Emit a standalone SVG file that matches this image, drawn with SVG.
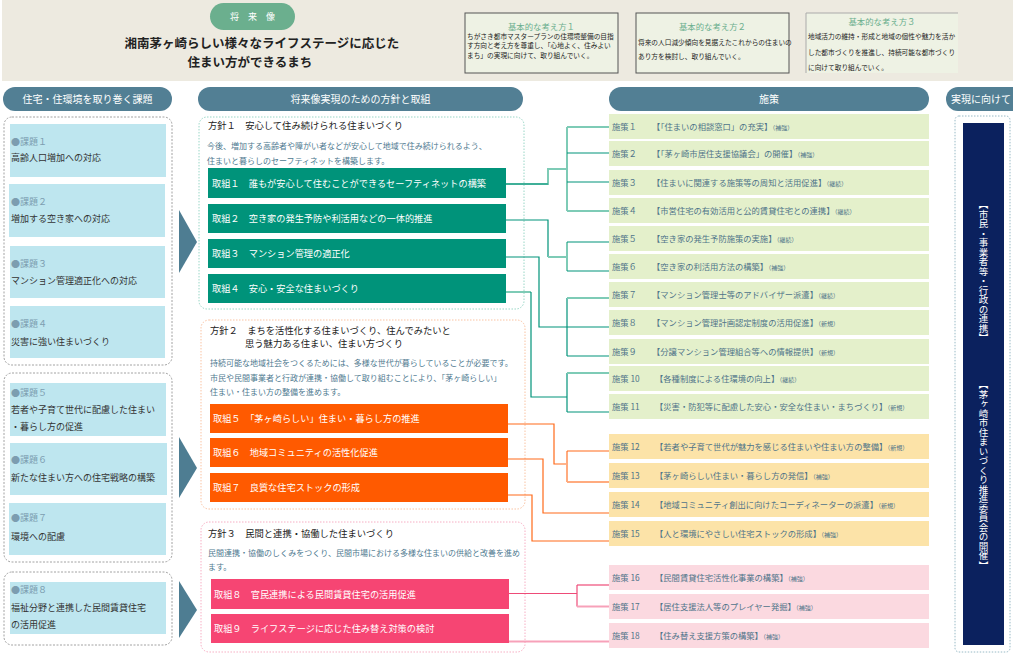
<svg xmlns="http://www.w3.org/2000/svg" width="1013" height="654" viewBox="0 0 1013 654">
<style>
text{font-family:"Noto Sans CJK JP","Noto Sans",sans-serif;}
.pill{fill:#527F94}
.pt{fill:#fff;font-size:10px}
.grp{fill:none;stroke:#8a8a8a;stroke-width:0.8;stroke-dasharray:2 1.5}
.issue{fill:#BEE6EF}
.il{fill:#7C9DB0;font-size:9px}
.it{fill:#333;font-size:9px}
.arr{fill:#4E7D92}
.ptitle{fill:#222;font-size:9.3px}
.pdesc{fill:#4F7A90;font-size:8px}
.act{font-size:9.2px;fill:#fff}
.a1{fill:#00937A}.a2{fill:#FF5A00}.a3{fill:#F64573}
.mg{fill:#E4F0CB}.mo{fill:#FCE3A8}.mp{fill:#FBD9E0}
.ms{font-size:8.3px;fill:#4F7489}
.sm{font-size:6px}
.bx{fill:#EEF2E4;stroke:#555;stroke-width:1}
.bt{fill:#6BAF8E;font-size:8.4px;text-anchor:middle}
.bd{fill:#222;font-size:6.7px}
.c{fill:none;stroke-width:1.2}
.td{stroke:#00937A}.tl{stroke:#7ECBB6;stroke-width:2}
.od{stroke:#FF6A1A}.ol{stroke:#FFAB7F;stroke-width:2}
.pd{stroke:#EE4B78}.pl{stroke:#F7A1B9;stroke-width:2}
.vt{fill:#fff;font-size:9.5px;writing-mode:vertical-rl}
</style>
<rect width="1013" height="654" fill="#fff"/>
<g id="header">
<rect x="2" y="0" width="1011" height="81" fill="#EDEAE0"/>
<rect x="210" y="3" width="85" height="27" rx="13.5" fill="#6BAF8E"/>
<text x="252.5" y="20" fill="#fff" font-size="9" text-anchor="middle">将　来　像</text>
<text x="262" y="47.5" fill="#222" font-size="12.5" font-weight="bold" text-anchor="middle">湘南茅ヶ崎らしい様々なライフステージに応じた</text>
<text x="250" y="66.5" fill="#222" font-size="12.5" font-weight="bold" text-anchor="middle">住まい方ができるまち</text>
</g>
<g id="basic1">
<rect class="bx" x="465" y="13" width="153" height="60"/>
<text class="bt" x="541.5" y="29.5">基本的な考え方１</text>
<text class="bd" x="467" y="38.8">ちがさき都市マスタープランの住環境整備の目指</text>
<text class="bd" x="467" y="48.4">す方向と考え方を尊重し、「心地よく、住みよい</text>
<text class="bd" x="467" y="58.2">まち」の実現に向けて、取り組んでいく。</text>
</g>
<g id="basic2">
<rect class="bx" x="636" y="13" width="153" height="60"/>
<text class="bt" x="712.5" y="29.5">基本的な考え方２</text>
<text class="bd" x="638" y="44.8">将来の人口減少傾向を見据えたこれからの住まいの</text>
<text class="bd" x="638" y="58.9">あり方を検討し、取り組んでいく。</text>
</g>
<g id="basic3">
<rect x="806" y="13" width="152" height="60" fill="#EEF2E4"/>
<path d="M806,73 V13 H958" fill="none" stroke="#aaa" stroke-width="1"/>
<text class="bt" x="882" y="24.9">基本的な考え方３</text>
<text class="bd" x="808" y="38.8">地域活力の維持・形成と地域の個性や魅力を活か</text>
<text class="bd" x="808" y="54.7">した都市づくりを推進し、持続可能な都市づくり</text>
<text class="bd" x="808" y="69.5">に向けて取り組んでいく。</text>
</g>
<g id="headers">
<rect class="pill" x="3" y="87" width="169" height="24" rx="12"/>
<text class="pt" x="87.5" y="102.5" text-anchor="middle">住宅・住環境を取り巻く課題</text>
<rect class="pill" x="198" y="87" width="325" height="24" rx="12"/>
<text class="pt" x="360.5" y="102.5" text-anchor="middle">将来像実現のための方針と取組</text>
<rect class="pill" x="609" y="87" width="320" height="24" rx="12"/>
<text class="pt" x="769" y="102.5" text-anchor="middle">施策</text>
<rect class="pill" x="946" y="87" width="80" height="24" rx="12"/>
<text class="pt" x="951" y="102.5">実現に向けて</text>
</g>
<g id="issues">
<rect class="grp" x="4" y="117" width="168" height="248" rx="8"/>
<rect class="grp" x="4" y="373" width="168" height="189" rx="8"/>
<rect class="grp" x="4" y="572" width="168" height="73" rx="8"/>
<g id="issue1"><rect class="issue" x="10" y="124" width="156" height="53"/><text class="il" x="11" y="145">●課題１</text><text class="it" x="11" y="161">高齢人口増加への対応</text></g>
<g id="issue2"><rect class="issue" x="9" y="184" width="156" height="53"/><text class="il" x="11" y="205">●課題２</text><text class="it" x="11" y="222">増加する空き家への対応</text></g>
<g id="issue3"><rect class="issue" x="10" y="246" width="155" height="52"/><text class="il" x="11" y="267">●課題３</text><text class="it" x="11" y="284">マンション管理適正化への対応</text></g>
<g id="issue4"><rect class="issue" x="10" y="306" width="155" height="52"/><text class="il" x="11" y="327">●課題４</text><text class="it" x="11" y="345">災害に強い住まいづくり</text></g>
<g id="issue5"><rect class="issue" x="10" y="383" width="156" height="53"/><text class="il" x="11" y="396">●課題５</text><text class="it" x="11" y="413">若者や子育て世代に配慮した住まい</text><text class="it" x="11" y="430">・暮らし方の促進</text></g>
<g id="issue6"><rect class="issue" x="10" y="443" width="157" height="52"/><text class="il" x="11" y="463">●課題６</text><text class="it" x="11" y="481">新たな住まい方への住宅戦略の構築</text></g>
<g id="issue7"><rect class="issue" x="9" y="503" width="157" height="52"/><text class="il" x="11" y="521">●課題７</text><text class="it" x="11" y="540">環境への配慮</text></g>
<g id="issue8"><rect class="issue" x="10" y="582" width="156" height="52"/><text class="il" x="11" y="593">●課題８</text><text class="it" x="11" y="611">福祉分野と連携した民間賃貸住宅</text><text class="it" x="11" y="628">の活用促進</text></g>
</g>
<g id="arrows">
<path class="arr" d="M179,210 L197,242 L179,273 Z"/>
<path class="arr" d="M179,437 L197,468 L179,498 Z"/>
<path class="arr" d="M179,581 L197,610 L179,638 Z"/>
</g>
<g id="policy1">
<rect x="199" y="117" width="325" height="192" rx="8" fill="none" stroke="#7FCBB8" stroke-width="0.8" stroke-dasharray="1.5 1.5"/>
<text class="ptitle" x="208" y="128.5">方針１　安心して住み続けられる住まいづくり</text>
<text class="pdesc" x="207" y="149">今後、増加する高齢者や障がい者などが安心して地域で住み続けられるよう、</text>
<text class="pdesc" x="207" y="164">住まいと暮らしのセーフティネットを構築します。</text>
<g id="act1"><rect class="a1" x="208" y="168" width="298" height="30"/><text class="act" x="212" y="186.5">取組１　誰もが安心して住むことができるセーフティネットの構築</text></g>
<g id="act2"><rect class="a1" x="208" y="204" width="298" height="29"/><text class="act" x="212" y="222">取組２　空き家の発生予防や利活用などの一体的推進</text></g>
<g id="act3"><rect class="a1" x="208" y="239" width="298" height="29"/><text class="act" x="212" y="257">取組３　マンション管理の適正化</text></g>
<g id="act4"><rect class="a1" x="208" y="274" width="298" height="29"/><text class="act" x="212" y="292">取組４　安心・安全な住まいづくり</text></g>
</g>
<g id="policy2">
<rect x="201" y="320" width="324" height="189" rx="8" fill="none" stroke="#F7B48C" stroke-width="0.8" stroke-dasharray="1.5 1.5"/>
<text class="ptitle" x="210" y="333.5">方針２　まちを活性化する住まいづくり、住んでみたいと</text>
<text class="ptitle" x="245" y="346.5">思う魅力ある住まい、住まい方づくり</text>
<text class="pdesc" x="210" y="366">持続可能な地域社会をつくるためには、多様な世代が暮らしていることが必要です。</text>
<text class="pdesc" x="210" y="381">市民や民間事業者と行政が連携・協働して取り組むことにより、「茅ヶ崎らしい」</text>
<text class="pdesc" x="210" y="395">住まい・住まい方の整備を進めます。</text>
<g id="act5"><rect class="a2" x="210" y="404" width="298" height="29"/><text class="act" x="213" y="422">取組５　「茅ヶ崎らしい」住まい・暮らし方の推進</text></g>
<g id="act6"><rect class="a2" x="210" y="438" width="298" height="29"/><text class="act" x="213" y="456">取組６　地域コミュニティの活性化促進</text></g>
<g id="act7"><rect class="a2" x="210" y="473" width="298" height="29"/><text class="act" x="213" y="491">取組７　良質な住宅ストックの形成</text></g>
</g>
<g id="policy3">
<rect x="201" y="522" width="324" height="130" rx="8" fill="none" stroke="#F59AB5" stroke-width="0.8" stroke-dasharray="1.5 1.5"/>
<text class="ptitle" x="208" y="536.5">方針３　民間と連携・協働した住まいづくり</text>
<text class="pdesc" x="208" y="556" font-size="8.2">民間連携・協働のしくみをつくり、民間市場における多様な住まいの供給と改善を進め</text>
<text class="pdesc" x="208" y="570" font-size="8.2">ます。</text>
<g id="act8"><rect class="a3" x="211" y="579" width="298" height="30"/><text class="act" x="214" y="597.5">取組８　官民連携による民間賃貸住宅の活用促進</text></g>
<g id="act9"><rect class="a3" x="211" y="614" width="298" height="29"/><text class="act" x="214" y="632">取組９　ライフステージに応じた住み替え対策の検討</text></g>
</g>
<g id="connectors">
<path class="c tl" d="M506,184 H548 V169 H567"/>
<path class="c td" d="M506,184 H548"/>
<path class="c tl" d="M567,127 V211"/>
<path class="c tl" d="M567,127 H609"/>
<path class="c td" d="M567,153 H609"/>
<path class="c td" d="M567,182 H609"/>
<path class="c tl" d="M567,211 H609"/>
<path class="c td" d="M506,220 H548 V257"/>
<path class="c tl" d="M548,257 H567"/>
<path class="c tl" d="M567,242 V271"/>
<path class="c td" d="M567,242 H609"/>
<path class="c td" d="M567,271 H609"/>
<path class="c td" d="M506,257 H539 V327 H609"/>
<path class="c td" d="M567,298 V356"/>
<path class="c tl" d="M567,298 H609"/>
<path class="c td" d="M567,356 H609"/>
<path class="c tl" d="M506,292 H531"/>
<path class="c td" d="M531,292 V397 H567"/>
<path class="c td" d="M567,373 V412"/>
<path class="c tl" d="M567,373 H609"/>
<path class="c td" d="M567,412 H609"/>
<path class="c od" d="M508,424 H554 V464 H567"/>
<path class="c ol" d="M567,451 V482"/>
<path class="c od" d="M567,451 H609"/>
<path class="c ol" d="M567,482 H609"/>
<path class="c od" d="M508,459 H543 V513 H609"/>
<path class="c od" d="M508,495 H532 V541 H609"/>
<path class="c pd" d="M509,593.5 H577"/>
<path class="c pd" d="M577,585 V606.5"/>
<path class="c pd" d="M577,585 H609"/>
<path class="c pl" d="M577,606.5 H609"/>
<path class="c pl" d="M509,641.6 H609"/>
</g>
<g id="measures">
<g id="m1"><rect class="mg" x="609" y="114" width="320" height="25"/><text class="ms" x="612" y="129.5">施策１<tspan x="652">【「住まいの相談窓口」の充実】</tspan><tspan class="sm">（補強）</tspan></text></g>
<g id="m2"><rect class="mg" x="609" y="141" width="320" height="25"/><text class="ms" x="612" y="156.5">施策２<tspan x="652">【「茅ヶ崎市居住支援協議会」の開催】</tspan><tspan class="sm">（補強）</tspan></text></g>
<g id="m3"><rect class="mg" x="609" y="170" width="320" height="25"/><text class="ms" x="612" y="185.5">施策３<tspan x="652">【住まいに関連する施策等の周知と活用促進】</tspan><tspan class="sm">（継続）</tspan></text></g>
<g id="m4"><rect class="mg" x="609" y="198" width="320" height="25"/><text class="ms" x="612" y="213.5">施策４<tspan x="652">【市営住宅の有効活用と公的賃貸住宅との連携】</tspan><tspan class="sm">（継続）</tspan></text></g>
<g id="m5"><rect class="mg" x="609" y="226" width="320" height="25"/><text class="ms" x="612" y="241.5">施策５<tspan x="652">【空き家の発生予防施策の実施】</tspan><tspan class="sm">（継続）</tspan></text></g>
<g id="m6"><rect class="mg" x="609" y="254" width="320" height="25"/><text class="ms" x="612" y="269.5">施策６<tspan x="652">【空き家の利活用方法の構築】</tspan><tspan class="sm">（補強）</tspan></text></g>
<g id="m7"><rect class="mg" x="609" y="282" width="320" height="25"/><text class="ms" x="612" y="297.5">施策７<tspan x="652">【マンション管理士等のアドバイザー派遣】</tspan><tspan class="sm">（継続）</tspan></text></g>
<g id="m8"><rect class="mg" x="609" y="310" width="320" height="25"/><text class="ms" x="612" y="325.5">施策８<tspan x="652">【マンション管理計画認定制度の活用促進】</tspan><tspan class="sm">（新規）</tspan></text></g>
<g id="m9"><rect class="mg" x="609" y="339" width="320" height="25"/><text class="ms" x="612" y="354.5">施策９<tspan x="652">【分譲マンション管理組合等への情報提供】</tspan><tspan class="sm">（新規）</tspan></text></g>
<g id="m10"><rect class="mg" x="609" y="366" width="320" height="25"/><text class="ms" x="612" y="381.5">施策 10<tspan x="655">【各種制度による住環境の向上】</tspan><tspan class="sm">（継続）</tspan></text></g>
<g id="m11"><rect class="mg" x="609" y="394" width="320" height="25"/><text class="ms" x="612" y="409.5">施策 11<tspan x="655">【災害・防犯等に配慮した安心・安全な住まい・まちづくり】</tspan><tspan class="sm">（新規）</tspan></text></g>
<g id="m12"><rect class="mo" x="609" y="434" width="320" height="25"/><text class="ms" x="612" y="449.5">施策 12<tspan x="655">【若者や子育て世代が魅力を感じる住まいや住まい方の整備】</tspan><tspan class="sm">（新規）</tspan></text></g>
<g id="m13"><rect class="mo" x="609" y="463" width="320" height="25"/><text class="ms" x="612" y="478.5">施策 13<tspan x="655">【茅ヶ崎らしい住まい・暮らし方の発信】</tspan><tspan class="sm">（補強）</tspan></text></g>
<g id="m14"><rect class="mo" x="609" y="492" width="320" height="25"/><text class="ms" x="612" y="507.5">施策 14<tspan x="655">【地域コミュニティ創出に向けたコーディネーターの派遣】</tspan><tspan class="sm">（新規）</tspan></text></g>
<g id="m15"><rect class="mo" x="609" y="521" width="320" height="25"/><text class="ms" x="612" y="536.5">施策 15<tspan x="655">【人と環境にやさしい住宅ストックの形成】</tspan><tspan class="sm">（補強）</tspan></text></g>
<g id="m16"><rect class="mp" x="609" y="565" width="320" height="25"/><text class="ms" x="612" y="580.5">施策 16<tspan x="655">【民間賃貸住宅活性化事業の構築】</tspan><tspan class="sm">（補強）</tspan></text></g>
<g id="m17"><rect class="mp" x="609" y="594" width="320" height="25"/><text class="ms" x="612" y="609.5">施策 17<tspan x="655">【居住支援法人等のプレイヤー発掘】</tspan><tspan class="sm">（補強）</tspan></text></g>
<g id="m18"><rect class="mp" x="609" y="623" width="320" height="25"/><text class="ms" x="612" y="638.5">施策 18<tspan x="655">【住み替え支援方策の構築】</tspan><tspan class="sm">（補強）</tspan></text></g>
</g>
<g id="realization">
<rect x="955" y="116" width="55" height="536" rx="4" fill="none" stroke="#7FA8B8" stroke-width="0.8" stroke-dasharray="1.5 1.5"/>
<rect x="963" y="123" width="41" height="522" fill="#0B215E"/>
<text class="vt" x="983.5" y="200">【市民・事業者等・行政の連携】</text>
<text class="vt" x="983.5" y="380">【茅ヶ崎市住まいづくり推進委員会の開催】</text>
</g>
</svg>
